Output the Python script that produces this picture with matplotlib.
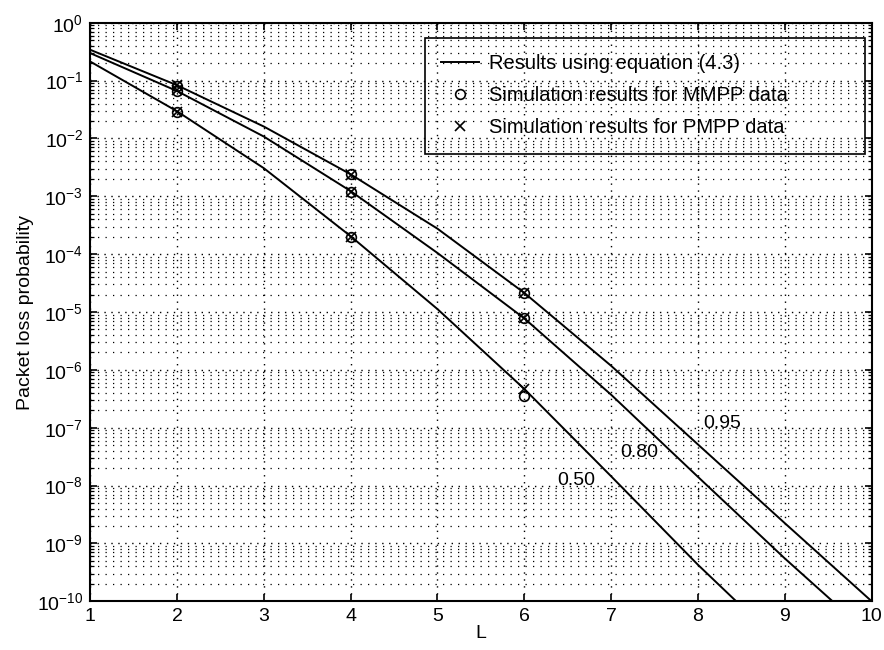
import matplotlib
matplotlib.use("Agg")
import matplotlib.pyplot as plt
import numpy as np
from matplotlib.ticker import NullFormatter, FixedLocator

plt.rcParams['font.family'] = ['Liberation Sans', 'DejaVu Sans']
plt.rcParams['mathtext.fontset'] = 'custom'
plt.rcParams['mathtext.rm'] = 'Liberation Sans'

# analytic curves, log10 of packet loss probability vs L
L_095 = [1, 2, 3, 4, 5, 6, 7, 8, 9, 10]
logp_095 = [-0.467, -1.08, -1.794, -2.62, -3.56, -4.67, -5.93, -7.29, -8.65, -10.0]
L_080 = [1, 2, 3, 4, 5, 6, 7, 8, 9, 9.55]
logp_080 = [-0.525, -1.18, -1.967, -2.91, -3.98, -5.11, -6.43, -7.85, -9.26, -10.0]
L_050 = [1, 2, 3, 4, 5, 6, 7, 8, 8.44]
logp_050 = [-0.67, -1.53, -2.514, -3.69, -4.95, -6.33, -7.84, -9.37, -10.0]

# simulation points at L = 2, 4, 6
L_sim = [2, 4, 6]
mmpp_095 = [0.080, 2.4e-3, 2.1e-5]
mmpp_080 = [0.065, 1.2e-3, 7.8e-6]
mmpp_050 = [0.029, 2.0e-4, 3.5e-7]
pmpp_095 = [0.084, 2.3e-3, 2.1e-5]
pmpp_080 = [0.068, 1.2e-3, 7.9e-6]
pmpp_050 = [0.029, 2.0e-4, 4.7e-7]

load_labels = ["0.95", "0.80", "0.50"]
label_pos = [(8.28, 1.2e-7), (7.32, 3.8e-8), (6.6, 1.2e-8)]

decades = np.arange(-10, 1)

FS = 14

fig = plt.figure(figsize=(8.84, 6.5), dpi=100)
ax = fig.add_axes([0.102, 0.075, 0.884, 0.890])

curves = [(L_095, logp_095), (L_080, logp_080), (L_050, logp_050)]
for i, (xs, ls) in enumerate(curves):
    ax.semilogy(xs, 10.0 ** np.array(ls), color='black', lw=1.4,
                label='Results using equation (4.3)' if i == 0 else None)

for i, ys in enumerate([mmpp_095, mmpp_080, mmpp_050]):
    ax.plot(L_sim, ys, linestyle='none', marker='o', ms=7, mfc='none', mec='black', mew=1.2,
            label='Simulation results for MMPP data' if i == 0 else None)
for i, ys in enumerate([pmpp_095, pmpp_080, pmpp_050]):
    ax.plot(L_sim, ys, linestyle='none', marker='x', ms=7, color='black', mew=1.2,
            label='Simulation results for PMPP data' if i == 0 else None)

for txt, (x, y) in zip(load_labels, label_pos):
    ax.text(x, y, txt, fontsize=FS, ha='center', va='center')

ax.set_xlim(1, 10)
ax.set_ylim(1e-10, 1)
ax.xaxis.set_major_locator(FixedLocator(range(1, 11)))
# only ticks inside the range, so no labels hang off the figure
ax.yaxis.set_major_locator(FixedLocator(10.0 ** decades))
minor = [m * 10.0 ** d for d in decades[:-1] for m in range(2, 10)]
ax.yaxis.set_minor_locator(FixedLocator(minor))
ax.yaxis.set_minor_formatter(NullFormatter())

# sparse dotted grid
ax.grid(True, which='major', linestyle=(0, (1, 4)), color='black', lw=1.0)
ax.grid(True, which='minor', axis='y', linestyle=(0, (1, 5)), color='black', lw=0.9)

ax.tick_params(which='both', direction='in', top=True, right=True, labelsize=FS)
ax.tick_params(which='major', length=5, width=1.2, pad=5)
ax.tick_params(which='minor', length=3, width=0.9)
for s in ax.spines.values():
    s.set_linewidth(1.5)

ax.set_xlabel('L', fontsize=FS, labelpad=0)
ax.set_ylabel('Packet loss probability', fontsize=FS, labelpad=2)

# wide legend box in the upper right, grid showing through
leg = ax.legend(loc='upper left', bbox_to_anchor=(0.428, 0.0, 0.563, 0.974), mode='expand',
                borderaxespad=0, fontsize=14.5, frameon=True, fancybox=False, framealpha=1,
                edgecolor='black', handlelength=1.9, borderpad=0.8, labelspacing=0.66,
                handletextpad=0.5)
leg.get_frame().set_facecolor('none')
leg.get_frame().set_linewidth(1.2)

fig.savefig('out.png', dpi=100)
